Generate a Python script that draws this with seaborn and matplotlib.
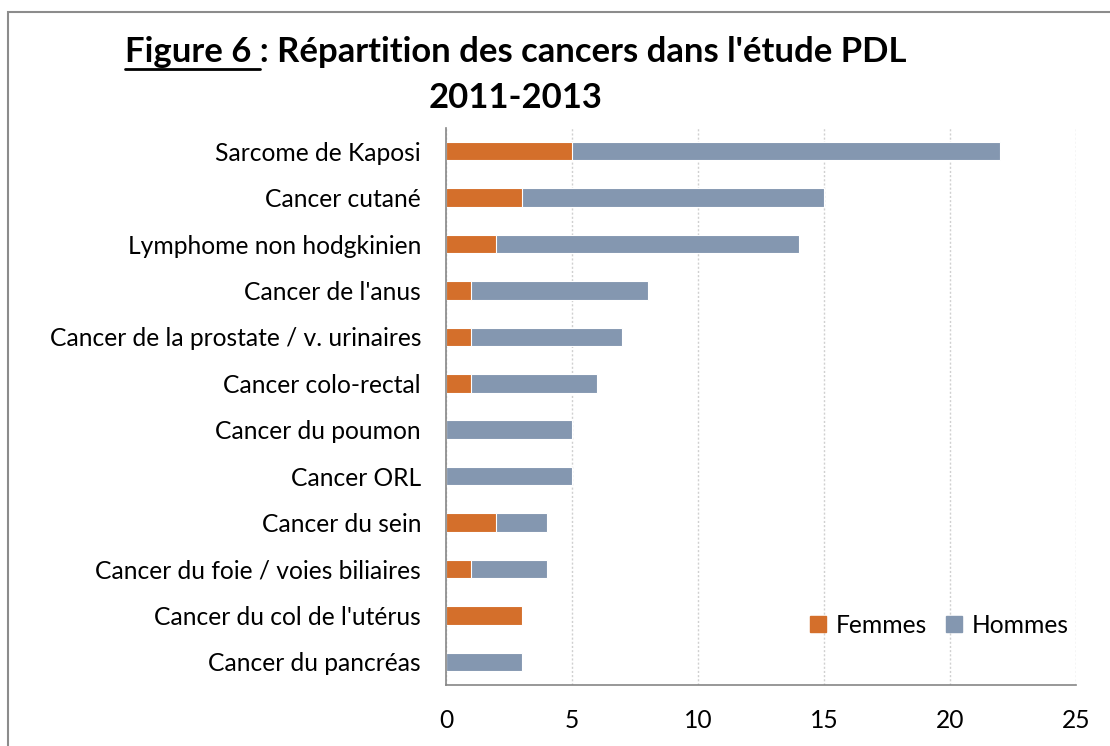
import matplotlib
matplotlib.use("Agg")
import matplotlib.pyplot as plt
import seaborn as sns
import pandas as pd
from matplotlib.patches import Patch, Rectangle
from matplotlib.lines import Line2D

# données
categories = [
    "Sarcome de Kaposi", "Cancer cutané", "Lymphome non hodgkinien",
    "Cancer de l'anus", "Cancer de la prostate / v. urinaires",
    "Cancer colo-rectal", "Cancer du poumon", "Cancer ORL",
    "Cancer du sein", "Cancer du foie / voies biliaires",
    "Cancer du col de l'utérus", "Cancer du pancréas",
]
femmes = [5, 3, 2, 1, 1, 1, 0, 0, 2, 1, 3, 0]
hommes = [17, 12, 12, 7, 6, 5, 5, 5, 2, 3, 0, 3]
x_ticks = [0, 5, 10, 15, 20, 25]

col_f = "#D46F2B"
col_h = "#8497B0"

sns.set_style("white")
plt.rcParams['font.family'] = ['Lato', 'DejaVu Sans']
plt.rcParams['text.color'] = "black"

df = pd.DataFrame({"cat": categories, "Femmes": femmes, "Hommes": hommes})
df["total"] = df["Femmes"] + df["Hommes"]

fig = plt.figure(figsize=(11.1, 7.46), dpi=100)
ax = fig.add_axes([446 / 1110, 1 - 685 / 746, 630 / 1110, (685 - 128) / 746])

# barres empilées : total (Hommes) puis Femmes par-dessus
sns.barplot(data=df, x="total", y="cat", color=col_h, orient="h", width=0.4,
            edgecolor="white", linewidth=0.8, ax=ax, saturation=1)
sns.barplot(data=df, x="Femmes", y="cat", color=col_f, orient="h", width=0.4,
            edgecolor="white", linewidth=0.8, ax=ax, saturation=1)

ax.set_xlim(0, 25)
ax.set_xticks(x_ticks)
ax.set_xlabel("")
ax.set_ylabel("")
ax.tick_params(axis="both", length=0, labelsize=17.7, colors="#000000")
ax.tick_params(axis="x", pad=17)
ax.tick_params(axis="y", pad=18)
ax.grid(axis="x", color="#D0D0D0", linestyle=(0, (1.5, 1.5)), linewidth=1)
ax.set_axisbelow(True)
for s in ["top", "right"]:
    ax.spines[s].set_visible(False)
for s in ["left", "bottom"]:
    ax.spines[s].set_color("#868686")
    ax.spines[s].set_linewidth(1.2)

handles = [Patch(color=col_f, label="Femmes"), Patch(color=col_h, label="Hommes")]
ax.legend(handles=handles, loc="lower right", bbox_to_anchor=(1.024, 0.047), ncol=2,
          frameon=False, fontsize=17.7, handlelength=0.65, handleheight=0.65,
          handletextpad=0.4, columnspacing=0.78)

# titre
title_main = "Figure 6 : Répartition des cancers dans l'étude PDL"
t1 = fig.text(516 / 1110, 1 - 52 / 746, title_main, ha="center", va="center",
              fontsize=24.9, fontweight="bold")
fig.text(516 / 1110, 1 - 98 / 746, "2011-2013", ha="center", va="center",
         fontsize=24.9, fontweight="bold")

# soulignement de "Figure 6"
fig.canvas.draw()
r = fig.canvas.get_renderer()
bb = t1.get_window_extent(r)
tmp = fig.text(0, 0, "Figure 6 ", fontsize=24.9, fontweight="bold")
w = tmp.get_window_extent(r).width
tmp.remove()
y_u = bb.y0 - 1
fig.add_artist(Line2D([bb.x0 / 1110, (bb.x0 + w) / 1110], [y_u / 746, y_u / 746],
                      transform=fig.transFigure, color="black", linewidth=2))

# cadre de la zone graphique
fig.add_artist(Rectangle((8 / 1110, -0.1), 1.2, 1 - 12 / 746 + 0.1,
                         transform=fig.transFigure, fill=False,
                         edgecolor="#8C8C8C", linewidth=1.5))

fig.savefig("out.png", dpi=100)
